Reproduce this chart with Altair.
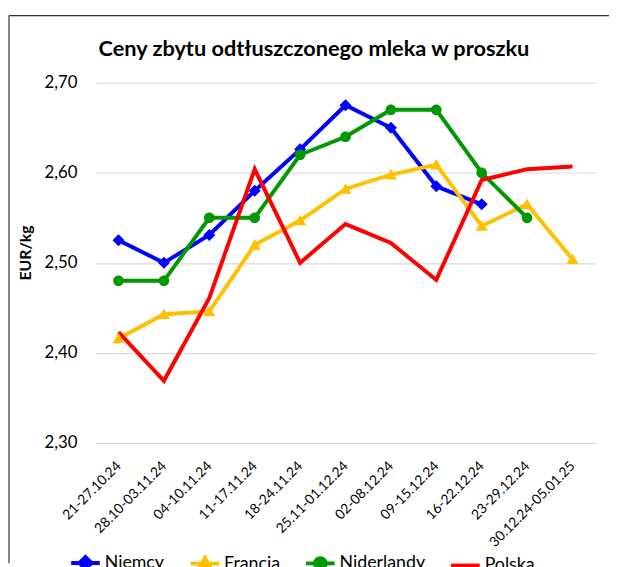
import altair as alt
import pandas as pd

weeks = ["21-27.10.24", "28.10-03.11.24", "04-10.11.24", "11-17.11.24", "18-24.11.24",
         "25.11-01.12.24", "02-08.12.24", "09-15.12.24", "16-22.12.24", "23-29.12.24",
         "30.12.24-05.01.25"]
niemcy = [2.525, 2.500, 2.531, 2.580, 2.626, 2.675, 2.650, 2.585, 2.565, None, None]
francja = [2.416, 2.443, 2.446, 2.520, 2.547, 2.582, 2.598, 2.609, 2.541, 2.565, 2.504]
niderlandy = [2.480, 2.480, 2.550, 2.550, 2.620, 2.640, 2.670, 2.670, 2.600, 2.550, None]
polska = [2.423, 2.369, 2.461, 2.604, 2.500, 2.543, 2.522, 2.481, 2.592, 2.604, 2.607]

series = ["Niemcy", "Francja", "Niderlandy", "Polska"]
colors = ["#0000FF", "#FFC000", "#009A00", "#FF0000"]
y_ticks = [2.30, 2.40, 2.50, 2.60, 2.70]

# marker shapes in unit box [-1, 1]; the connecting line only shows in the legend (stroked there)
shapes = [
    "M-1,0L1,0M0,-0.42L0.42,0L0,0.42L-0.42,0Z",
    "M-1,0L1,0M0,-0.40L0.42,0.34L-0.42,0.34Z",
    "M-1,0L1,0M0.37,0A0.37,0.37 0 1,1 -0.37,0A0.37,0.37 0 1,1 0.37,0Z",
    "M-1,0L1,0",
]

rows = []
for name, vals in zip(series, [niemcy, francja, niderlandy, polska]):
    for w, v in zip(weeks, vals):
        if v is not None:
            rows.append({"week": w, "series": name, "value": v})
df = pd.DataFrame(rows)

FONT = "Lato"

x = alt.X("week:N", sort=weeks, scale=alt.Scale(type="point", padding=0.5),
          axis=alt.Axis(title=None, labelAngle=-45, labelAlign="right", labelBaseline="middle",
                        labelPadding=21, ticks=False, domain=False, grid=False,
                        labelFontSize=14, labelFont=FONT, labelColor="#000"))
y = alt.Y("value:Q", scale=alt.Scale(domain=[2.3, 2.7], nice=False, zero=False),
          axis=alt.Axis(title="EUR/kg", values=y_ticks,
                        labelExpr="replace(format(datum.value, '.2f'), '.', ',')",
                        labelFontSize=17, labelFont=FONT, labelColor="#000", labelPadding=19,
                        ticks=False, domain=False, gridColor="#D9D9D9", gridWidth=1.2,
                        titleFont=FONT, titleFontSize=16, titleFontWeight="bold",
                        titleColor="#000", titleAngle=-90, titleX=-71, titleY=172,
                        titleAlign="center", titleBaseline="middle"))

leg = alt.Legend(title=None, orient="none", legendX=-27, legendY=470,
                 direction="horizontal", columnPadding=18,
                 symbolSize=841, symbolStrokeWidth=4, labelOffset=3,
                 labelFont=FONT, labelFontSize=18, labelColor="#000")

lines = alt.Chart(df).mark_line(strokeWidth=4, strokeJoin="miter").encode(
    x=x, y=y,
    color=alt.Color("series:N", scale=alt.Scale(domain=series, range=colors), legend=leg),
)

points = alt.Chart(df).transform_filter(alt.datum.series != "Polska").mark_point(
    filled=True, opacity=1, size=841
).encode(
    x=x, y=y,
    fill=alt.Fill("series:N", scale=alt.Scale(domain=series, range=colors), legend=leg),
    stroke=alt.Stroke("series:N", scale=alt.Scale(domain=series, range=colors), legend=leg),
    shape=alt.Shape("series:N", scale=alt.Scale(domain=series, range=shapes), legend=leg),
    strokeWidth=alt.value(0),
)

# outer chart border (top and left edges; the others fall outside the window)
border = pd.DataFrame({"k": [0]})
top_edge = alt.Chart(border).mark_rule(color="#333", strokeWidth=1.2).encode(
    x=alt.value(-88), x2=alt.value(520), y=alt.value(-68))
left_edge = alt.Chart(border).mark_rule(color="#333", strokeWidth=1.2).encode(
    x=alt.value(-88), y=alt.value(-68), y2=alt.value(487))

chart = alt.layer(top_edge, left_edge, lines, points).properties(
    width=506, height=365,
    title=alt.TitleParams("Ceny zbytu odtłuszczonego mleka w proszku", font=FONT, fontSize=22,
                          fontWeight="bold", color="#000", anchor="middle", dx=-32, offset=-47),
    autosize=alt.AutoSizeParams(type="none"),
    padding={"left": 89, "top": 72, "right": 14, "bottom": 122},
).configure_view(stroke=None)

chart.save("out.html", embed_options={"renderer": "svg", "actions": False})
